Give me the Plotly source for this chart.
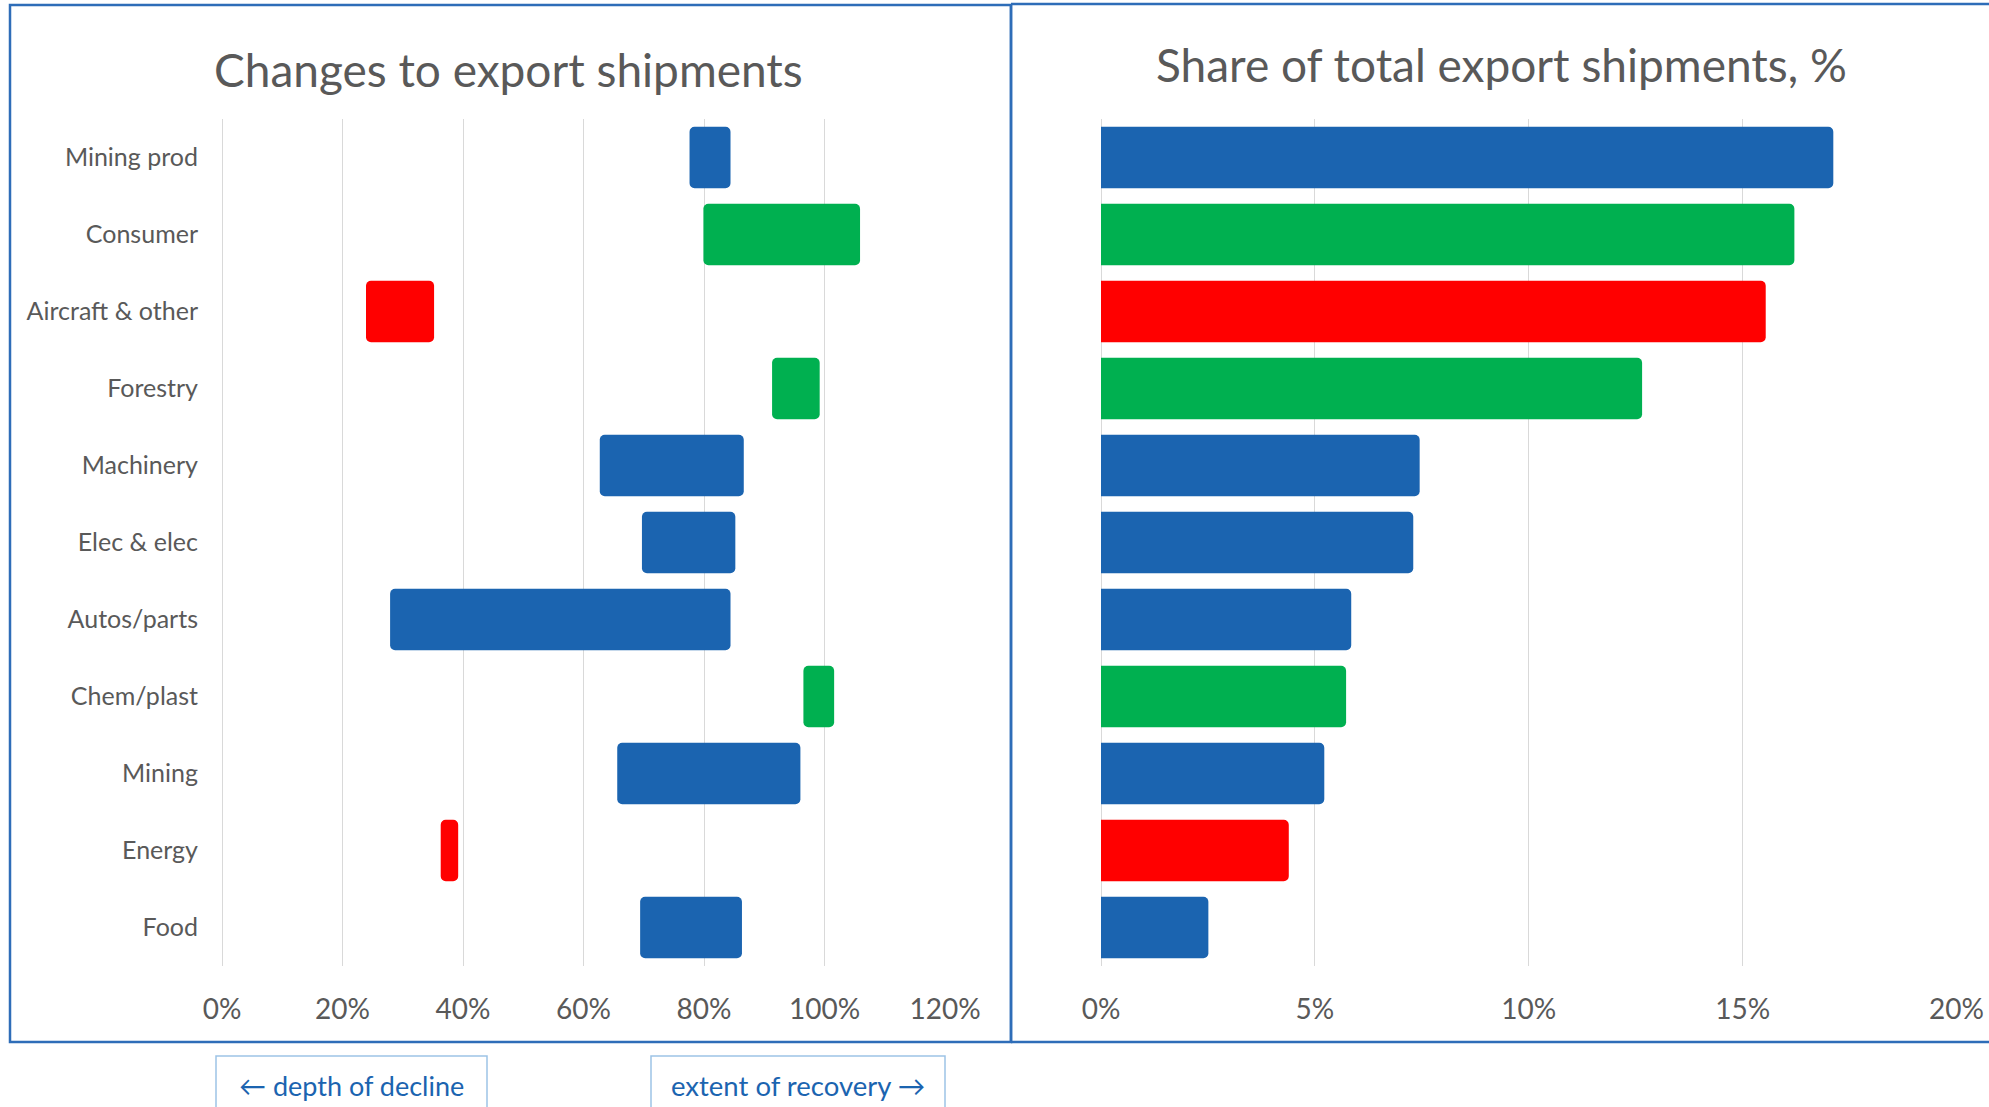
import plotly.graph_objects as go

# Export sectors, top to bottom
categories = ["Mining prod", "Consumer", "Aircraft & other", "Forestry", "Machinery",
              "Elec & elec", "Autos/parts", "Chem/plast", "Mining", "Energy", "Food"]
# Trough level (depth of decline) and latest level (extent of recovery), share of pre-crisis level
trough = [0.776, 0.799, 0.239, 0.913, 0.627, 0.697, 0.279, 0.965, 0.656, 0.363, 0.694]
latest = [0.844, 1.059, 0.352, 0.992, 0.866, 0.852, 0.844, 1.016, 0.960, 0.392, 0.863]
# Share of total export shipments
share = [0.1712, 0.1621, 0.1554, 0.1265, 0.0745, 0.0730, 0.0585, 0.0573, 0.0522, 0.0439, 0.0251]
x_ticks_left = [0, 0.2, 0.4, 0.6, 0.8, 1.0, 1.2]
x_ticks_right = [0, 0.05, 0.10, 0.15, 0.20]

BLUE, GREEN, RED = "#1B64B0", "#00B050", "#FF0000"
bar_colors = [BLUE, GREEN, RED, GREEN, BLUE, BLUE, BLUE, GREEN, BLUE, RED, BLUE]

W, H = 1989, 1107
FONT = "Lato"
GREY = "#595959"
GRID = "#D9D9D9"
FRAME = "#2E6DB8"


def px(x):
    return x / W


def py(y):
    return 1 - y / H


fig = go.Figure()

fig.add_trace(go.Bar(
    y=categories, x=[b - a for a, b in zip(trough, latest)], base=trough,
    orientation="h", marker=dict(color=bar_colors, line=dict(width=0), cornerradius=5),
    xaxis="x", yaxis="y", hoverinfo="skip",
))
fig.add_trace(go.Bar(
    y=categories, x=share, orientation="h",
    marker=dict(color=bar_colors, line=dict(width=0), cornerradius=5),
    xaxis="x2", yaxis="y2", hoverinfo="skip",
))

ydom = [py(966), py(119)]
axis_common = dict(showgrid=True, gridcolor=GRID, gridwidth=1.3,
                   zeroline=True, zerolinecolor=GRID, zerolinewidth=1.3,
                   showline=False, ticks="", tickformat=".0%", automargin=False,
                   tickfont=dict(family=FONT, size=28, color=GREY), ticklabelstandoff=24)

fig.update_layout(
    width=W, height=H, margin=dict(l=0, r=0, t=0, b=0, autoexpand=False),
    paper_bgcolor="white", plot_bgcolor="white", showlegend=False, bargap=0.2,
    xaxis=dict(domain=[px(222), px(945)], range=[0, 1.2], tickvals=x_ticks_left,
               anchor="y", **axis_common),
    xaxis2=dict(domain=[px(1101), px(1956.5)], range=[0, 0.2], tickvals=x_ticks_right,
                anchor="y2", **axis_common),
    yaxis=dict(domain=ydom, anchor="x", autorange="reversed", showgrid=False, zeroline=False,
               showline=False, ticks="", automargin=False,
               tickfont=dict(family=FONT, size=25, color=GREY), ticklabelstandoff=23),
    yaxis2=dict(domain=ydom, anchor="x2", autorange="reversed", showgrid=False, zeroline=False,
                showline=False, showticklabels=False, automargin=False),
)

shapes = [
    # left panel frame
    dict(type="rect", xref="paper", yref="paper", x0=px(10), x1=px(1011), y0=py(1042), y1=py(5),
         line=dict(color=FRAME, width=2.5), fillcolor="rgba(0,0,0,0)"),
    # right panel frame (open on the right)
    dict(type="line", xref="paper", yref="paper", x0=px(1011), x1=px(1011), y0=py(1042), y1=py(4),
         line=dict(color=FRAME, width=2.5)),
    dict(type="line", xref="paper", yref="paper", x0=px(1011), x1=1.01, y0=py(4), y1=py(4),
         line=dict(color=FRAME, width=2.5)),
    dict(type="line", xref="paper", yref="paper", x0=px(1011), x1=1.01, y0=py(1042), y1=py(1042),
         line=dict(color=FRAME, width=2.5)),
    # direction boxes
    dict(type="rect", xref="paper", yref="paper", x0=px(216), x1=px(487), y0=-0.05, y1=py(1056),
         line=dict(color="#9DC3E6", width=1.5), fillcolor="rgba(0,0,0,0)"),
    dict(type="rect", xref="paper", yref="paper", x0=px(651), x1=px(945), y0=-0.05, y1=py(1056),
         line=dict(color="#9DC3E6", width=1.5), fillcolor="rgba(0,0,0,0)"),
]
fig.update_layout(shapes=shapes)

annotations = [
    dict(text="Changes to export shipments", x=px(509), y=py(69), xref="paper", yref="paper",
         showarrow=False, xanchor="center", yanchor="middle",
         font=dict(family=FONT, size=46, color=GREY)),
    dict(text="Share of total export shipments, %", x=px(1501), y=py(65), xref="paper", yref="paper",
         showarrow=False, xanchor="center", yanchor="middle",
         font=dict(family=FONT, size=46, color=GREY)),
    dict(text="\u2190 depth of decline", x=px(351.5), y=py(1085), xref="paper", yref="paper",
         showarrow=False, xanchor="center", yanchor="middle",
         font=dict(family=FONT, size=27, color="#1B64B0")),
    dict(text="extent of recovery \u2192", x=px(798), y=py(1085), xref="paper", yref="paper",
         showarrow=False, xanchor="center", yanchor="middle",
         font=dict(family=FONT, size=27.5, color="#1B64B0")),
]
fig.update_layout(annotations=annotations)

fig.write_html("out.html", config={"responsive": False})
